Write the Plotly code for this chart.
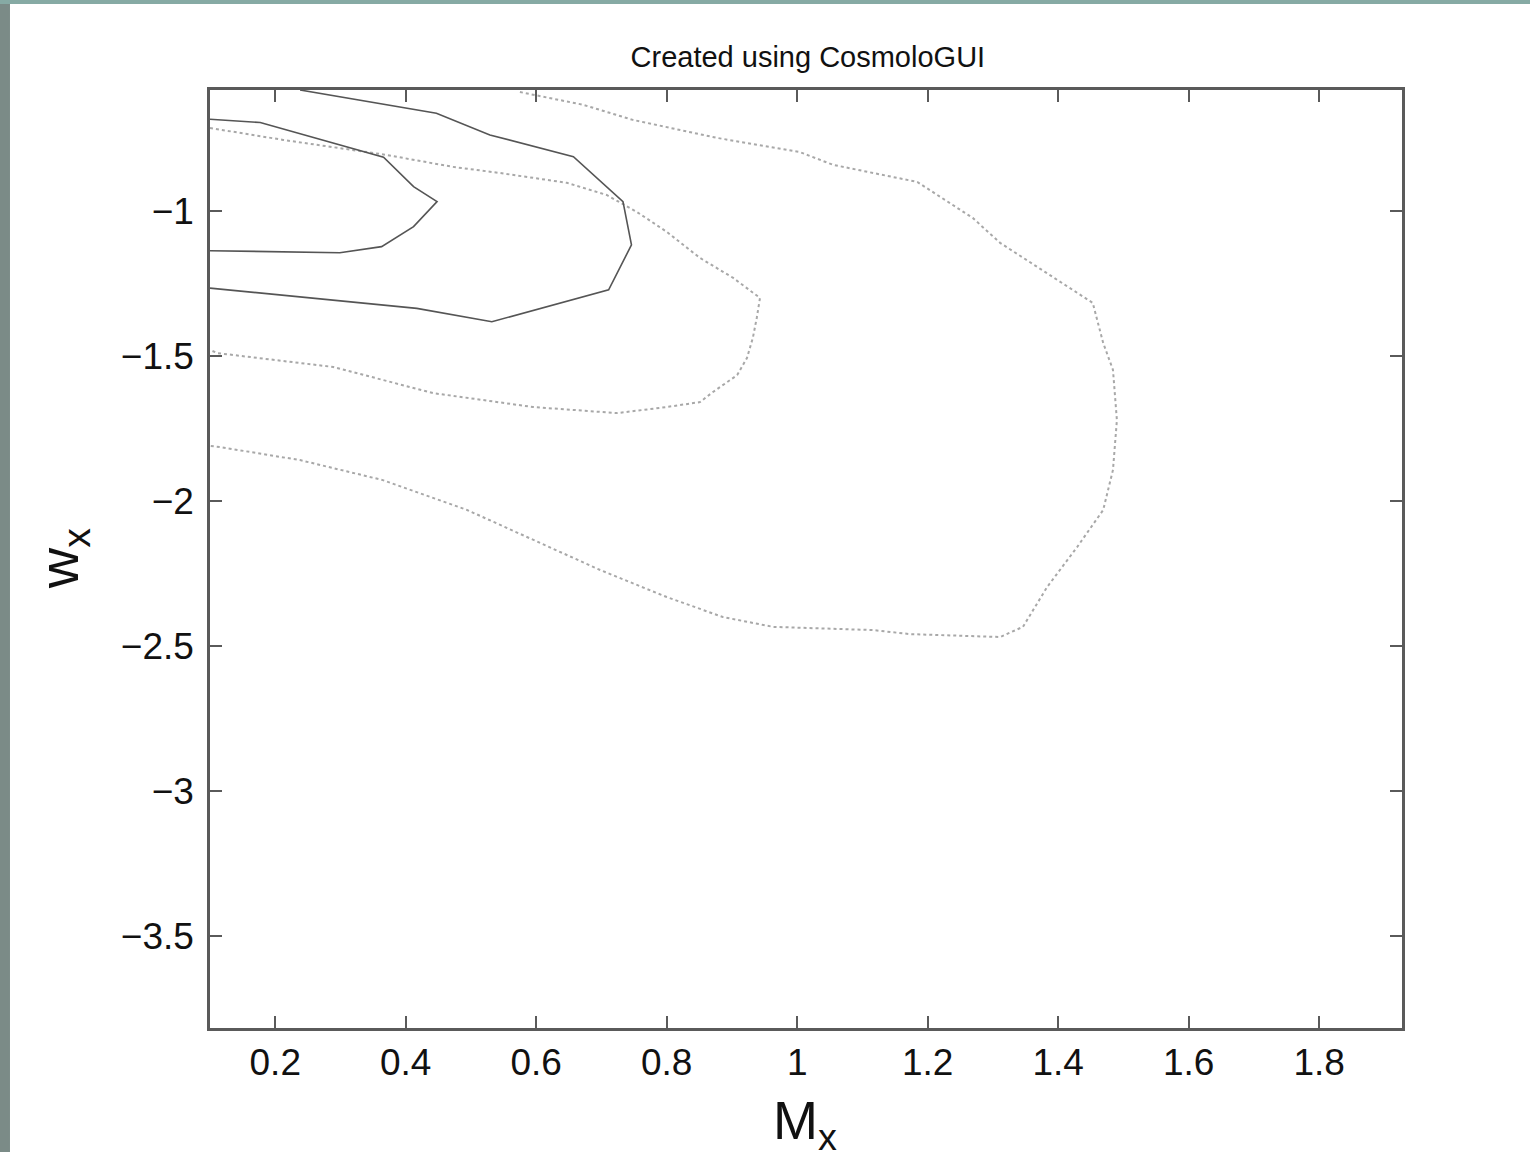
import plotly.graph_objects as go

# Inner solid contour (68%)
inner_solid_x = [0.100, 0.177, 0.366, 0.412, 0.448, 0.412, 0.363, 0.299, 0.100]
inner_solid_y = [-0.684, -0.695, -0.815, -0.916, -0.968, -1.054, -1.123, -1.144, -1.137]

# Outer solid contour (95%)
outer_solid_x = [0.238, 0.447, 0.529, 0.657, 0.733, 0.746, 0.711, 0.532, 0.417, 0.100]
outer_solid_y = [-0.583, -0.663, -0.738, -0.813, -0.968, -1.117, -1.272, -1.382, -1.336, -1.266]

# Middle dotted contour
mid_dot_x = [0.100, 0.212, 0.371, 0.472, 0.544, 0.647, 0.708, 0.754, 0.800, 0.851, 0.902, 0.943,
             0.938, 0.932, 0.923, 0.908, 0.871, 0.851, 0.800, 0.724, 0.595, 0.442, 0.289, 0.111, 0.100]
mid_dot_y = [-0.714, -0.755, -0.807, -0.848, -0.869, -0.903, -0.945, -1.003, -1.072, -1.162, -1.231, -1.300,
             -1.369, -1.438, -1.507, -1.566, -1.624, -1.659, -1.676, -1.697, -1.676, -1.628, -1.538, -1.490, -1.479]

# Outer dotted contour
out_dot_x = [0.575, 0.672, 0.748, 0.877, 1.004, 1.055, 1.184, 1.234, 1.269, 1.311, 1.392, 1.453, 1.469,
             1.484, 1.490, 1.484, 1.469, 1.429, 1.383, 1.346, 1.311, 1.173, 1.116, 0.963, 0.886, 0.800,
             0.698, 0.595, 0.494, 0.365, 0.238, 0.115, 0.100]
out_dot_y = [-0.590, -0.634, -0.686, -0.748, -0.797, -0.841, -0.900, -0.972, -1.024, -1.110, -1.228, -1.317, -1.455,
             -1.548, -1.721, -1.893, -2.031, -2.159, -2.297, -2.434, -2.469, -2.459, -2.445, -2.434, -2.400, -2.331,
             -2.238, -2.134, -2.031, -1.928, -1.859, -1.814, -1.810]

x_ticks = [0.2, 0.4, 0.6, 0.8, 1.0, 1.2, 1.4, 1.6, 1.8]
x_tick_labels = ["0.2", "0.4", "0.6", "0.8", "1", "1.2", "1.4", "1.6", "1.8"]
y_ticks = [-3.5, -3.0, -2.5, -2.0, -1.5, -1.0]
y_tick_labels = ["\u22123.5", "\u22123", "\u22122.5", "\u22122", "\u22121.5", "\u22121"]

FONT = "Liberation Sans, Arial, Helvetica, sans-serif"

fig = go.Figure()
fig.add_trace(go.Scatter(x=out_dot_x, y=out_dot_y, mode="lines",
                         line=dict(color="#a8a8a8", width=2, dash="dot"), showlegend=False))
fig.add_trace(go.Scatter(x=mid_dot_x, y=mid_dot_y, mode="lines",
                         line=dict(color="#a8a8a8", width=2, dash="dot"), showlegend=False))
fig.add_trace(go.Scatter(x=outer_solid_x, y=outer_solid_y, mode="lines",
                         line=dict(color="#555555", width=1.6), showlegend=False))
fig.add_trace(go.Scatter(x=inner_solid_x, y=inner_solid_y, mode="lines",
                         line=dict(color="#555555", width=1.6), showlegend=False))

axis_common = dict(showline=True, linecolor="#5a5a5a", linewidth=2.5, mirror="ticks",
                   ticks="inside", ticklen=12, tickwidth=1.5, tickcolor="#5a5a5a",
                   showgrid=False, zeroline=False,
                   tickfont=dict(family=FONT, size=37, color="#111111"))

fig.update_layout(
    width=1530, height=1152,
    margin=dict(l=210, r=128, t=90, b=124),
    paper_bgcolor="white", plot_bgcolor="white",
    title=dict(text="Created using CosmoloGUI", x=0.528, xanchor="center", y=0.9505, yanchor="middle",
               font=dict(family=FONT, size=29, color="#111111")),
    xaxis=dict(range=[0.1, 1.927], tickvals=x_ticks, ticktext=x_tick_labels, ticklabelstandoff=0,
               **axis_common),
    yaxis=dict(range=[-3.817, -0.583], tickvals=y_ticks, ticktext=y_tick_labels, ticklabelstandoff=6,
               **axis_common),
    annotations=[
        dict(text="M<sub>x</sub>", xref="paper", yref="paper", x=0.499, y=-0.064,
             xanchor="center", yanchor="top", showarrow=False,
             font=dict(family=FONT, size=54, color="#111111")),
        dict(text="w<sub>x</sub>", xref="paper", yref="paper", x=-0.124, y=0.5,
             xanchor="center", yanchor="middle", showarrow=False, textangle=-90,
             font=dict(family=FONT, size=56, color="#111111")),
    ],
    shapes=[
        dict(type="rect", xref="paper", yref="paper", x0=-0.1762, x1=-0.1678, y0=-0.14, y1=1.1,
             fillcolor="#7b8b87", line=dict(width=0), layer="above"),
        dict(type="rect", xref="paper", yref="paper", x0=-0.1762, x1=1.11, y0=1.0917, y1=1.1,
             fillcolor="#86aaa4", line=dict(width=0), layer="above"),
    ],
)

fig.write_html("out.html")
